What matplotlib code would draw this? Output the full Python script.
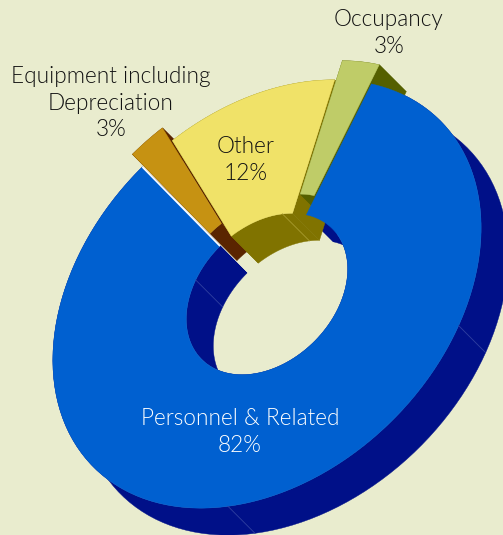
import numpy as np
import matplotlib
matplotlib.use("Agg")
import matplotlib.pyplot as plt

# slices, clockwise from the top right corner of the big one
labels = ["Personnel & Related", "Equipment including\nDepreciation", "Other", "Occupancy"]
shares = [82, 2.6, 12.4, 3]
exploded = [0, 0.09, 0, 0.09]
top_colors = ["#0060d0", "#c69212", "#f0e268", "#bfcc68"]
side_colors = ["#001088", "#5a2500", "#807300", "#556000"]
text_colors = ["white", "#111111", "#111111", "#111111"]
label_pos = [(240, 432), (111, 103), (246, 160), (389, 33)]

BG = "#e9ecce"
CX, CY = 267, 294      # middle of the ring in pixels
A, B = 245, 178        # half axes of the outer ellipse
TILT = np.radians(45)
HOLE = 0.377
DEPTH = np.array([27, 27])
START = 24.8           # angle where the first slice begins


def ring_xy(t_deg, r, off=(0, 0)):
    # point on the tilted disc, t in degrees, r as part of the radius
    t = np.radians(np.asarray(t_deg, dtype=float))
    p = r * np.cos(t) + off[0]
    q = r * np.sin(t) + off[1]
    x = CX + A * p * np.cos(TILT) - B * q * np.sin(TILT)
    y = CY - A * p * np.sin(TILT) - B * q * np.cos(TILT)
    return np.column_stack([x, y])


def sweep(ax, pts, color):
    # extruded band under a run of points
    band = np.vstack([pts, pts[::-1] + DEPTH])
    ax.fill(band[:, 0], band[:, 1], color=color, lw=0.3)


def draw_sides(ax, t0, t1, off, color):
    ts = np.linspace(t0, t1, 120)
    sweep(ax, ring_xy(ts, 1, off), color)
    sweep(ax, ring_xy(ts, HOLE, off), color)
    for t in (t0, t1):
        sweep(ax, ring_xy([t, t], np.array([HOLE, 1]), off), color)


def draw_top(ax, t0, t1, off, color):
    ts = np.linspace(t0, t1, 240)
    pts = np.vstack([ring_xy(ts, 1, off), ring_xy(ts[::-1], HOLE, off)])
    ax.fill(pts[:, 0], pts[:, 1], color=color, lw=0.3)


fig = plt.figure(figsize=(5.03, 5.35), dpi=100, facecolor=BG)
ax = fig.add_axes([0, 0, 1, 1])
ax.set_xlim(0, 503)
ax.set_ylim(535, 0)
ax.axis("off")

# slice angles from the shares, going clockwise
steps = np.array(shares) * 3.6
ends = START - np.cumsum(steps)
starts = ends + steps
offs = []
for i in range(4):
    mid = np.radians((starts[i] + ends[i]) / 2)
    offs.append((exploded[i] * np.cos(mid), exploded[i] * np.sin(mid)))

# big slice walls go first, its top last
draw_sides(ax, starts[0], ends[0], offs[0], side_colors[0])
for i in (1, 2, 3):
    draw_sides(ax, starts[i], ends[i], offs[i], side_colors[i])
    draw_top(ax, starts[i], ends[i], offs[i], top_colors[i])
draw_top(ax, starts[0], ends[0], offs[0], top_colors[0])

# light seam on the cut edge of the big slice
edge = ring_xy([ends[0], ends[0]], np.array([1, HOLE]))
ax.plot(edge[:, 0], edge[:, 1], color="white", lw=1.2, solid_capstyle="butt")

# faint panel lines on the walls
for t, r, c in [(-62.5, 1, "#3040a0"), (-136.5, 1, "#3040a0"), (116, HOLE, "#3040a0"), (43, HOLE, "#a89c30")]:
    seam = np.vstack([ring_xy([t], r), ring_xy([t], r) + DEPTH])
    ax.plot(seam[:, 0], seam[:, 1], color=c, lw=0.6)

for i in range(4):
    ax.text(label_pos[i][0], label_pos[i][1], labels[i] + "\n" + str(round(shares[i])) + "%",
            ha="center", va="center", color=text_colors[i], fontsize=16.3,
            family="Lato", weight=300, linespacing=1.35)

fig.savefig("out.png", dpi=100, facecolor=BG)
